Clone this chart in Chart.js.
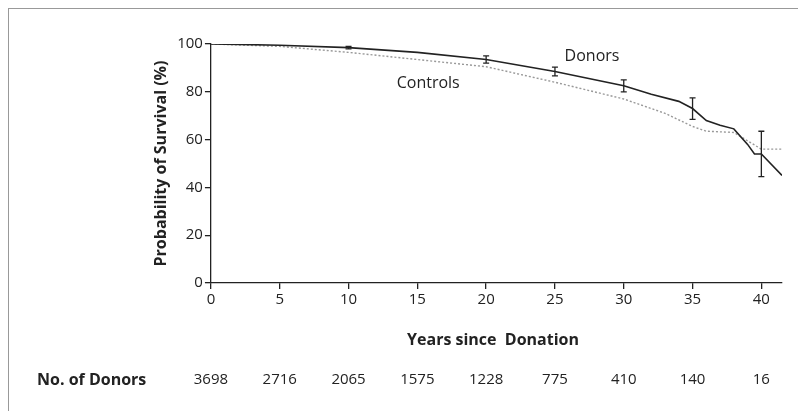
<!DOCTYPE html>
<html><head><meta charset="utf-8">
<script src="https://cdn.jsdelivr.net/npm/chart.js@4"></script>
<style>html,body{margin:0;padding:0;background:#fff}#w{position:relative;width:798px;height:411px}
#w:before{content:"";position:absolute;left:8px;top:8px;right:0;bottom:0;border-left:1.5px solid #999;border-top:1.5px solid #999}</style>
</head><body><div id="w"><canvas id="c" width="798" height="411"></canvas></div>
<script>
const donorX=[0,5,10,15,20,25,30,32,34,35,36,37,38,39,39.5,40,41.5];
const donorY=[100,99.5,98.5,96.5,93.5,88.5,82.5,79,76,73,68,66,64.5,58,54,54,45];
const ctrlX=[0,5,10,15,20,25,30,33,35,36,38,40,41.5];
const ctrlY=[100,99,96.5,93.5,90.5,84,77,71,65.5,63.5,63,56,56];
const errX=[10,20,25,30,35,40];
const errLo=[98,92,86.7,80,68.5,44.5];
const errHi=[99,95,90.3,85,77.5,63.5];
const riskX=[0,5,10,15,20,25,30,35,40];
const riskN=['3698','2716','2065','1575','1228','775','410','140','16'];
const pts=(xs,ys)=>xs.map((x,i)=>({x,y:ys[i]}));
const F="'Open Sans', sans-serif";
const extra={id:'extra',afterDatasetsDraw(ch){
 const c=ch.ctx,x=ch.scales.x,y=ch.scales.y;
 c.save();c.strokeStyle='#222';c.lineWidth=1.3;
 errX.forEach((v,i)=>{const px=x.getPixelForValue(v),a=y.getPixelForValue(errLo[i]),b=y.getPixelForValue(errHi[i]);
  c.beginPath();c.moveTo(px,a);c.lineTo(px,b);c.moveTo(px-3,a);c.lineTo(px+3,a);c.moveTo(px-3,b);c.lineTo(px+3,b);c.stroke();});
 c.fillStyle='#222';c.font="16px "+F;c.textAlign='left';c.textBaseline='middle';
 c.fillText('Donors',x.getPixelForValue(25.7),y.getPixelForValue(95));
 c.fillText('Controls',x.getPixelForValue(13.5),y.getPixelForValue(83.5));
 c.font="bold 16px "+F;c.textAlign='center';
 c.fillText('Years since  Donation',x.getPixelForValue(20.5),340);
 c.textAlign='left';c.fillText('No. of Donors',37,380);
 c.font="15px "+F;c.textAlign='center';
 riskX.forEach((v,i)=>c.fillText(riskN[i],x.getPixelForValue(v),380));
 c.restore();}};
new Chart(document.getElementById('c'),{type:'scatter',
 data:{datasets:[
  {data:pts(donorX,donorY),showLine:true,borderColor:'#222',borderWidth:1.6,pointRadius:0,tension:0},
  {data:pts(ctrlX,ctrlY),showLine:true,borderColor:'#999',borderWidth:1.4,borderDash:[2,2],pointRadius:0,tension:0}]},
 options:{responsive:false,animation:false,
  layout:{padding:{left:148,right:16,top:44,bottom:100}},
  plugins:{legend:{display:false},tooltip:{enabled:false}},
  scales:{
   x:{type:'linear',min:0,max:41.5,border:{color:'#222',width:1.3},grid:{drawOnChartArea:false,color:'#222',tickLength:6,lineWidth:1.3},
      ticks:{stepSize:5,color:'#222',font:{size:15,family:F},padding:2},
      afterBuildTicks:a=>{a.ticks=[0,5,10,15,20,25,30,35,40].map(v=>({value:v}))}},
   y:{min:0,max:100,border:{color:'#222',width:1.3},grid:{drawOnChartArea:false,color:'#222',tickLength:6,lineWidth:1.3},
      ticks:{stepSize:20,color:'#222',font:{size:15,family:F},padding:2},
      title:{display:true,text:'Probability of Survival (%)',color:'#222',font:{size:16,weight:'bold',family:F}}}}},
 plugins:[extra]});
</script></body></html>
